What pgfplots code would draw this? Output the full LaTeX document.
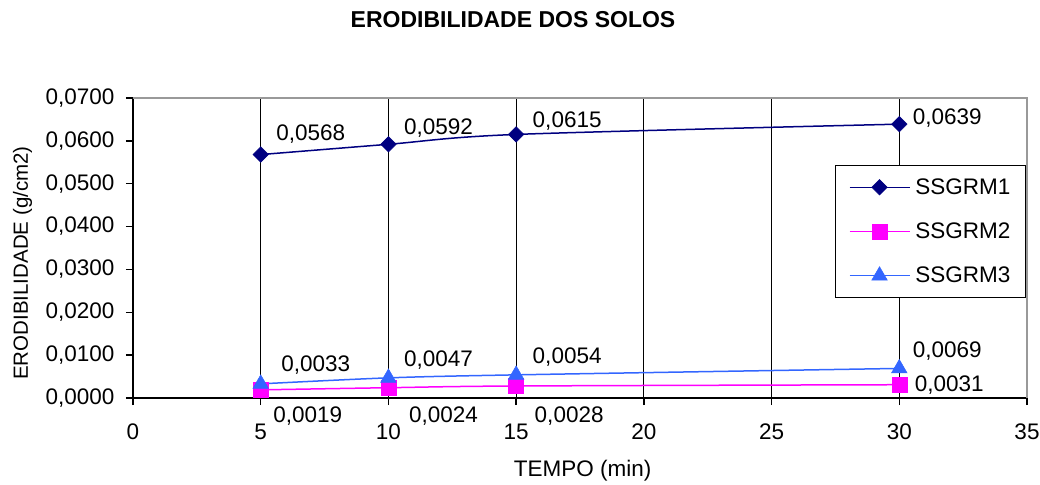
\documentclass[border=0pt]{standalone}
\usepackage{pgfplots}
\pgfplotsset{compat=1.18}
\usepackage{fontspec}
\setmainfont{Liberation Sans}
\definecolor{s1}{RGB}{0,0,128}
\definecolor{s2}{RGB}{255,0,255}
\definecolor{s3}{RGB}{51,102,255}
\newcommand\fs{\fontsize{22.5}{26}\selectfont}
\begin{document}
\begin{tikzpicture}
\useasboundingbox (-133pt,-86pt) rectangle (907pt,398pt);
\begin{axis}[
  at={(0pt,0pt)}, anchor=south west,
  scale only axis, width=894pt, height=300pt,
  xmin=0, xmax=35, ymin=0, ymax=0.07,
  clip=false,
  xtick={0,5,10,15,20,25,30,35},
  ytick={0,0.01,0.02,0.03,0.04,0.05,0.06,0.07},
  scaled y ticks=false,
  yticklabel style={xshift=-8pt, /pgf/number format/.cd, fixed, fixed zerofill, precision=4, use comma},
  /pgf/number format/assume math mode=true,
  ticklabel style={font=\fs},
  xticklabel style={yshift=-15pt},
  axis x line*=bottom, axis y line*=left,
  axis line style={-, black, line width=1.6pt},
  tick align=outside, major tick length=7pt,
  tick style={black, line width=1.4pt},
  xmajorgrids, major grid style={black, line width=0.8pt},
  xlabel={TEMPO (min)}, ylabel={ERODIBILIDADE (g/cm2)},
  xlabel style={font=\fs, at={(axis description cs:0.503,-0.243)}, anchor=center},
  ylabel style={font=\fontsize{20.5}{24}\selectfont, at={(axis description cs:-0.1236,0.45)}, anchor=center},
  legend style={at={(axis description cs:0.785,0.777)}, anchor=north west,
    draw=black, line width=1.5pt, font=\fs, inner xsep=8pt, inner ysep=11pt,
    minimum width=190pt,
    row sep=23pt, column sep=3pt, nodes={inner sep=2pt, minimum width=0pt}, cells={anchor=west}},
  legend image code/.code={\draw[#1, mark repeat=2, mark phase=2] plot coordinates {(0pt,0pt) (30pt,0pt) (60pt,0pt)};},
]
\draw[gray!80, line width=1.2pt] (rel axis cs:0,1) -- (rel axis cs:1,1) -- (rel axis cs:1,0);
\addplot[s1, line width=1.5pt, smooth, mark=square*, mark size=5.5pt,
  mark options={rotate=45, fill=s1, line width=0.5pt}]
  coordinates {(5,0.0568) (10,0.0592) (15,0.0615) (30,0.0639)};
\addplot[s2, line width=1.5pt, smooth, mark=square*, mark size=7.5pt,
  mark options={fill=s2, line width=0.5pt}]
  coordinates {(5,0.0019) (10,0.0024) (15,0.0028) (30,0.0031)};
\addplot[s3, line width=1.5pt, smooth, mark=triangle*, mark size=9pt,
  mark options={fill=s3, line width=0.5pt}]
  coordinates {(5,0.0033) (10,0.0047) (15,0.0054) (30,0.0069)};
\legend{SSGRM1,SSGRM2,SSGRM3}
% data labels
\node[font=\fs, xshift=50pt, yshift=20pt] at (axis cs:5,0.0568) {0,0568};
\node[font=\fs, xshift=50pt, yshift=16pt] at (axis cs:10,0.0592) {0,0592};
\node[font=\fs, xshift=51pt, yshift=13pt] at (axis cs:15,0.0615) {0,0615};
\node[font=\fs, xshift=48pt, yshift=6pt] at (axis cs:30,0.0639) {0,0639};
\node[font=\fs, xshift=47pt, yshift=-26pt] at (axis cs:5,0.0019) {0,0019};
\node[font=\fs, xshift=55pt, yshift=-28pt] at (axis cs:10,0.0024) {0,0024};
\node[font=\fs, xshift=53pt, yshift=-30pt] at (axis cs:15,0.0028) {0,0028};
\node[font=\fs, xshift=50pt, yshift=0pt] at (axis cs:30,0.0031) {0,0031};
\node[font=\fs, xshift=55pt, yshift=19pt] at (axis cs:5,0.0033) {0,0033};
\node[font=\fs, xshift=50pt, yshift=18pt] at (axis cs:10,0.0047) {0,0047};
\node[font=\fs, xshift=51pt, yshift=18pt] at (axis cs:15,0.0054) {0,0054};
\node[font=\fs, xshift=48pt, yshift=17pt] at (axis cs:30,0.0069) {0,0069};
\end{axis}
\node[font=\bfseries\fontsize{23}{27}\selectfont] at (380pt,378pt) {ERODIBILIDADE DOS SOLOS};
\end{tikzpicture}
\end{document}
